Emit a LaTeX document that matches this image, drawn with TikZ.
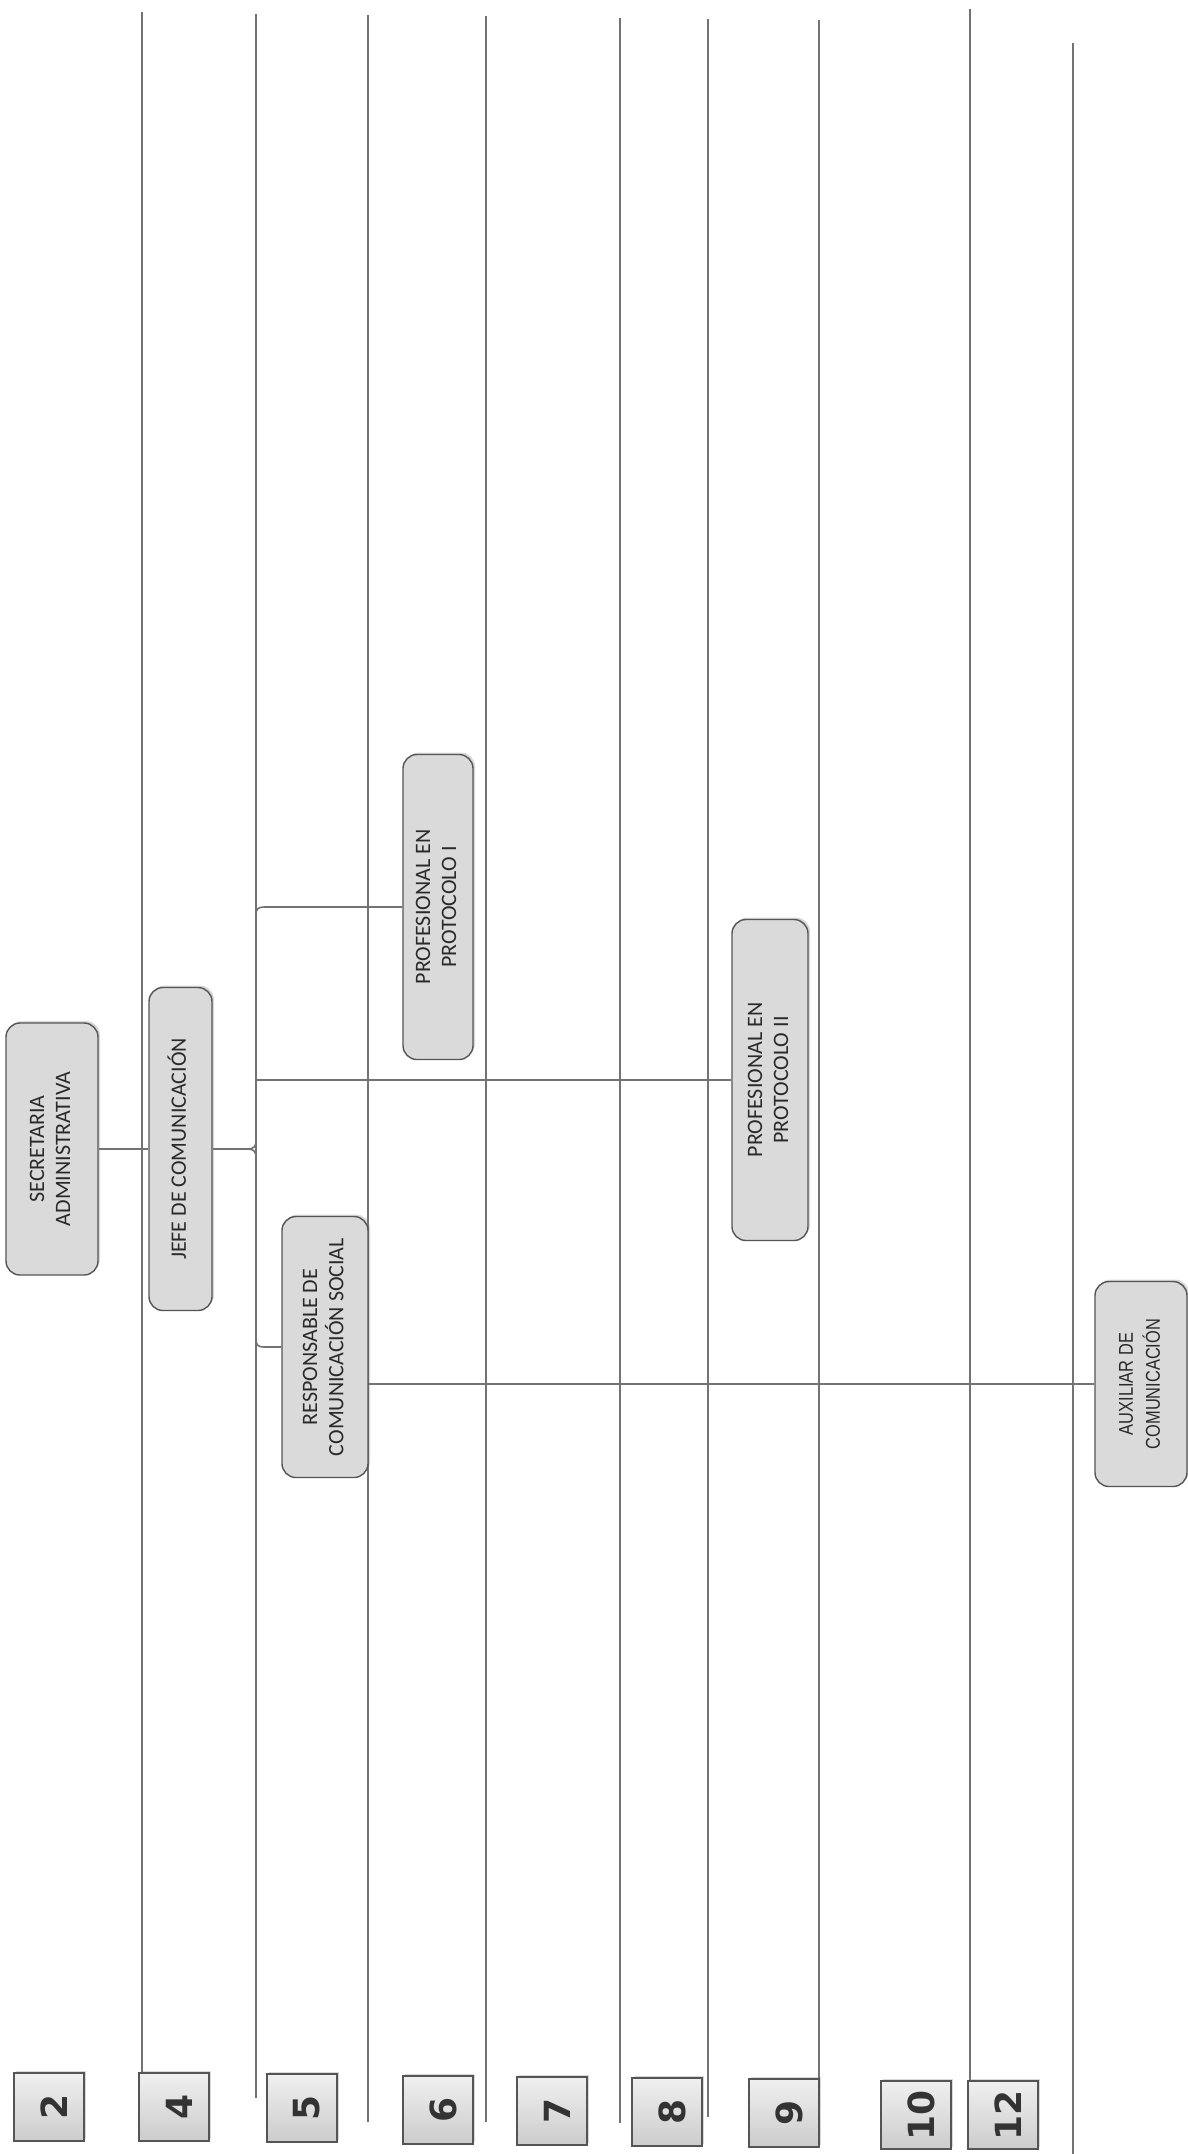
\documentclass[tikz,border=0pt]{standalone}
\usepackage{fontspec}
\usepackage{graphicx}
\setmainfont{Carlito}
\newfontfamily\auxfont[FakeStretch=0.82]{Liberation Sans}
\newfontfamily\numfont{DejaVu Sans}
\usetikzlibrary{shadows}
\definecolor{linegray}{HTML}{737373}
\definecolor{boxfill}{HTML}{DADADA}
\definecolor{boxline}{HTML}{555555}
\definecolor{txt}{HTML}{2A2A2A}
\newcommand{\rtext}[1]{\rotatebox{90}{\begin{tabular}{@{}c@{}}#1\end{tabular}}}
\newcommand{\rnum}[1]{\hspace{5pt}\rotatebox{90}{#1}}
\begin{document}
\begin{tikzpicture}[x=0.5pt,y=-0.5pt,
  gridline/.style={draw=linegray, line width=0.8pt},
  conn/.style={draw=linegray, line width=0.8pt},
  orgbox/.style={draw=boxline, line width=0.7pt, fill=boxfill, rounded corners=7pt,
    inner sep=0pt, text=txt, font=\fontsize{11}{13}\selectfont,
    drop shadow={shadow xshift=1pt, shadow yshift=1pt, opacity=0.3, fill=gray}},
  numbox/.style={draw=boxline, line width=0.7pt, top color=gray!12, bottom color=gray!40,
    minimum width=35pt, minimum height=34pt, inner sep=0pt, text=black!80,
    font=\numfont\bfseries\fontsize{18}{18}\selectfont,
    drop shadow={shadow xshift=1pt, shadow yshift=1pt, opacity=0.3, fill=gray}}]
\fill[white] (0,0) rectangle (1188,2154);
\useasboundingbox (0,0) rectangle (1188,2154);

% number boxes
\node[numbox] (n2)  at (49,2107)   {\rnum{2}};
\node[numbox] (n4)  at (174,2107)  {\rnum{4}};
\node[numbox] (n5)  at (302,2108)  {\rnum{5}};
\node[numbox] (n6)  at (438,2110)  {\rnum{6}};
\node[numbox] (n7)  at (552,2111)  {\rnum{7}};
\node[numbox] (n8)  at (667,2112)  {\rnum{8}};
\node[numbox] (n9)  at (784,2113)  {\rnum{9}};
\node[numbox] (n10) at (916,2115)  {\rnum{10}};
\node[numbox] (n12) at (1003,2115) {\rnum{12}};

% level lines
\coordinate (l1) at (142,12);
\coordinate (l2) at (256,14);
\coordinate (l3) at (368,15);
\coordinate (l4) at (486,16);
\coordinate (l5) at (620,18);
\coordinate (l6) at (708,19);
\coordinate (l7) at (819,20);
\coordinate (l8) at (970,9);
\coordinate (l9) at (1073,43);
\draw[gridline] (l1) -- (l1 |- n4.north);
\draw[gridline] (l2) -- (256,2098);
\draw[gridline] (l3) -- (368,2122);
\draw[gridline] (l4) -- (486,2122);
\draw[gridline] (l5) -- (620,2123);
\draw[gridline] (l6) -- (708,2117);
\draw[gridline] (l7) -- (l7 |- n9.north);
\draw[gridline] (l8) -- (l8 |- n12.north);
\draw[gridline] (l9) -- (1073,2154);

% org boxes
\node[orgbox, minimum width=46pt, minimum height=126pt] (sec) at (52,1149)
  {\rtext{SECRETARIA\\ADMINISTRATIVA}};
\node[orgbox, minimum width=31.5pt, minimum height=161.5pt] (jefe) at (180.5,1149)
  {\rtext{JEFE DE COMUNICACIÓN}};
\node[orgbox, minimum width=43pt, minimum height=130.5pt] (resp) at (325,1347)
  {\rtext{RESPONSABLE DE\\COMUNICACIÓN SOCIAL}};
\node[orgbox, minimum width=35pt, minimum height=152.5pt] (prof1) at (438,907)
  {\rtext{PROFESIONAL EN\\PROTOCOLO I}};
\node[orgbox, minimum width=38pt, minimum height=160.5pt] (prof2) at (770,1080)
  {\rtext{PROFESIONAL EN\\PROTOCOLO II}};
\node[orgbox, minimum width=46pt, minimum height=102.5pt, font=\auxfont\fontsize{10}{13.5}\selectfont] (aux) at (1141,1384)
  {\rtext{AUXILIAR DE\\COMUNICACIÓN}};

% connectors
\coordinate (tip) at (248,1149);
\coordinate (cp2) at (256,1080);
\draw[conn] (sec.east) -- (jefe.west);
\draw[conn] (jefe.east) -- (tip);
\draw[conn] (tip) .. controls (254,1149) and (256,1146) .. (256,1141)
  -- (256,915) .. controls (256,909) and (258,907) .. (264,907) -- (prof1.west);
\draw[conn] (tip) .. controls (254,1149) and (256,1152) .. (256,1157)
  -- (256,1339) .. controls (256,1345) and (258,1347) .. (264,1347) -- (resp.west);
\draw[conn] (cp2) -- (prof2.west);
\draw[conn] (resp.east |- aux.west) -- (aux.west);
\end{tikzpicture}
\end{document}
